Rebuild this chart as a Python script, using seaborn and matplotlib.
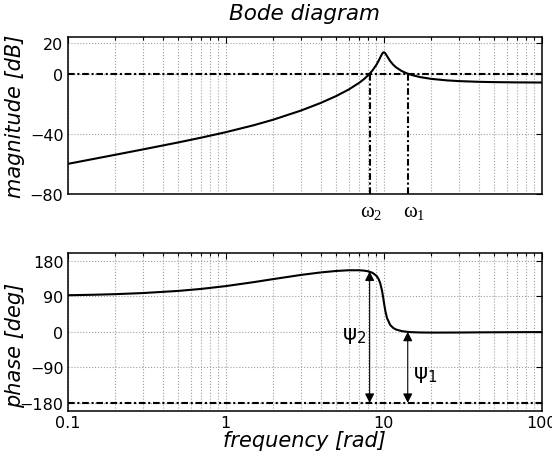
import matplotlib
matplotlib.use("Agg")
import matplotlib.pyplot as plt
import matplotlib.transforms as mtransforms
from matplotlib.ticker import LogLocator, NullFormatter, FixedLocator, FixedFormatter
import numpy as np
import pandas as pd
import seaborn as sns

# ---------------- data ----------------
freq = [0.1, 0.15, 0.2, 0.3, 0.5, 0.7, 1, 1.5, 2, 3, 4, 5, 6, 7, 7.5, 8, 8.5,
        9, 9.25, 9.5, 9.75, 9.9, 10, 10.1, 10.25, 10.5, 11, 11.5, 12, 13, 14,
        15, 17, 20, 25, 30, 40, 50, 70, 100]
magnitude_db = [-59.99, -56.45, -53.93, -50.35, -45.74, -42.55, -38.94, -34.34,
                -30.62, -24.53, -19.47, -14.94, -10.60, -6.11, -3.67, -0.97,
                2.14, 5.90, 8.14, 10.60, 12.95, 13.89, 14.15, 14.06, 13.41,
                11.65, 8.28, 5.85, 4.09, 1.71, 0.18, -0.90, -2.31, -3.50,
                -4.49, -4.99, -5.46, -5.66, -5.84, -5.93]
phase_deg = [92.8, 94.2, 95.6, 98.4, 103.8, 108.9, 116.0, 126.0, 133.8, 144.4,
             150.7, 154.4, 156.2, 156.2, 155.3, 153.4, 149.7, 142.1, 135.2,
             123.9, 105.3, 89.9, 78.7, 67.6, 52.7, 34.9, 17.4, 9.8, 5.8, 1.9,
             0.2, -0.8, -1.6, -1.9, -1.8, -1.7, -1.3, -1.1, -0.8, -0.6]

crossing_freqs = [8.15, 14.2]          # omega_2, omega_1
crossing_labels = ["ω_2", "ω_1"]
crossing_phase = [153.0, 0.0]          # phase at omega_2, omega_1
psi_labels = ["ψ_2", "ψ_1"]
ref_mag = 0
ref_phase = -180

mag_ticks = [-80, -40, 0, 20]
phase_ticks = [-180, -90, 0, 90, 180]
freq_ticks = [0.1, 1, 10, 100]
freq_ticklabels = ["0.1", "1", "10", "100"]

df = pd.DataFrame({"frequency": freq, "magnitude": magnitude_db, "phase": phase_deg})

# ---------------- style ----------------
sns.set_style("white")
plt.rcParams["font.family"] = ["DejaVu Sans"]
plt.rcParams["axes.unicode_minus"] = True
plt.rcParams["text.color"] = "black"
plt.rcParams["axes.labelcolor"] = "black"

fig = plt.figure(figsize=(5.52, 4.64), dpi=100)
ax1 = fig.add_axes([0.1226, 0.5797, 0.8587, 0.3390])
ax2 = fig.add_axes([0.1226, 0.1127, 0.8587, 0.3399])

dd = (3.2, 1.3, 1.0, 1.3)  # dash-dot pattern
lw_curve = 1.5

sns.lineplot(data=df, x="frequency", y="magnitude", ax=ax1, color="black",
             lw=lw_curve, sort=False, estimator=None, zorder=4)
sns.lineplot(data=df, x="frequency", y="phase", ax=ax2, color="black",
             lw=lw_curve, sort=False, estimator=None, zorder=4)

for ax in (ax1, ax2):
    ax.set_xscale("log")
    ax.set_xlim(0.1, 100)
    ax.xaxis.set_major_locator(FixedLocator(freq_ticks))
    ax.xaxis.set_major_formatter(FixedFormatter(freq_ticklabels))
    ax.xaxis.set_minor_locator(LogLocator(base=10, subs=np.arange(2, 10)))
    ax.xaxis.set_minor_formatter(NullFormatter())
    ax.grid(True, which="both", axis="x", ls=":", color="#a0a0a0", lw=0.8)
    ax.grid(True, which="major", axis="y", ls=":", color="#a0a0a0", lw=0.8)
    ax.tick_params(which="both", direction="in", top=True, right=True,
                   labelsize=11.5, colors="black", width=0.8, pad=3)
    ax.tick_params(which="major", length=4)
    ax.tick_params(which="minor", length=2)
    for s in ax.spines.values():
        s.set_color("black")
        s.set_linewidth(1.1)
    ax.set_axisbelow(True)

# ---- magnitude panel ----
ax1.set_ylim(-80, 24.5)
ax1.set_yticks(mag_ticks)
ax1.tick_params(axis="x", labelbottom=False)
ax1.set_xlabel("")
ax1.set_ylabel("magnitude [dB]", fontsize=15, style="italic", color="black")
ax1.yaxis.set_label_coords(-0.090, 0.5)
ax1.set_title("Bode diagram", fontsize=15.5, style="italic", pad=13, color="black")
ax1.axhline(ref_mag, color="black", lw=lw_curve, dashes=dd, zorder=3)
ax1.vlines(crossing_freqs, ymin=-80, ymax=ref_mag, colors="black",
           lw=lw_curve, linestyles=[(0, dd)], zorder=3)
trans = mtransforms.blended_transform_factory(ax1.transData, ax1.transAxes)
for f, lab, dx in zip(crossing_freqs, crossing_labels, [-7.0, -3.6]):
    ax1.annotate(r"$\mathregular{%s}$" % lab, xy=(f, 0), xycoords=trans,
                 xytext=(dx, -15.6), textcoords="offset points",
                 ha="left", va="baseline", fontsize=15, color="black",
                 fontfamily="Liberation Serif", annotation_clip=False)

# ---- phase panel ----
ax2.set_ylim(-200, 200)
ax2.set_yticks(phase_ticks)
ax2.set_ylabel("phase [deg]", fontsize=15, style="italic", color="black")
ax2.yaxis.set_label_coords(-0.090, 0.42)
ax2.set_xlabel("frequency [rad]", fontsize=15, style="italic", color="black")
ax2.xaxis.set_label_coords(0.5, -0.122)
ax2.xaxis.label.set_va("top")
ax2.axhline(ref_phase, color="black", lw=lw_curve, dashes=dd, zorder=3)
for f, ph in zip(crossing_freqs, crossing_phase):
    ax2.annotate("", xy=(f, ref_phase), xytext=(f, ph),
                 arrowprops=dict(arrowstyle="<|-|>,head_length=0.55,head_width=0.28",
                                 color="black", lw=0.8, mutation_scale=10,
                                 shrinkA=0, shrinkB=0), zorder=5)
for f, lab, y, dx in zip(crossing_freqs, psi_labels, [-8, -107], [-20.0, 4.1]):
    ax2.annotate(r"$\mathregular{%s}$" % lab, xy=(f, y), xycoords="data",
                 xytext=(dx, 0), textcoords="offset points",
                 ha="left", va="center", fontsize=15.5, color="black")

fig.savefig("out.png", dpi=100)
